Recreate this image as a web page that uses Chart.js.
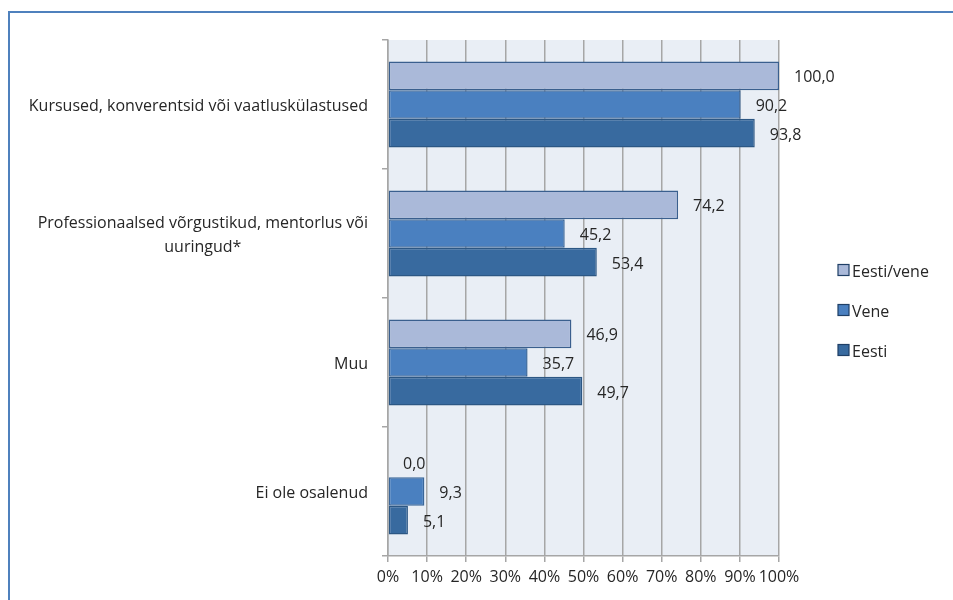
<!DOCTYPE html>
<html>
<head>
<meta charset="utf-8">
<script src="https://cdn.jsdelivr.net/npm/chart.js@4/dist/chart.umd.min.js"></script>
<style>
html,body{margin:0;padding:0;background:#fff;}
#wrap{position:relative;width:953px;height:600px;overflow:hidden;}
#frame{position:absolute;left:8px;top:11px;width:960px;height:620px;border-top:2px solid #4f81bd;border-left:2px solid #4f81bd;box-sizing:border-box;pointer-events:none;}
canvas{position:absolute;left:0;top:0;}
</style>
</head>
<body>
<div id="wrap">
<canvas id="c" width="953" height="600"></canvas>
<div id="frame"></div>
</div>
<script>
const categories = [
  ["Kursused, konverentsid või vaatluskülastused"],
  ["Professionaalsed võrgustikud, mentorlus või", "uuringud*"],
  ["Muu"],
  ["Ei ole osalenud"]
];
const seriesNames = ["Eesti/vene", "Vene", "Eesti"];
const eestiVene = [100.0, 74.2, 46.9, 0.0];
const vene = [90.2, 45.2, 35.7, 9.3];
const eesti = [93.8, 53.4, 49.7, 5.1];
const xTicks = [0, 10, 20, 30, 40, 50, 60, 70, 80, 90, 100];

const FONT = "'Open Sans', sans-serif";
const FSIZE = 16;
const TXT = "#262626";

const bgPlugin = {
  id: 'bg',
  beforeDraw(chart) {
    const {ctx, chartArea: a} = chart;
    ctx.save();
    ctx.fillStyle = '#e9eef5';
    ctx.fillRect(a.left, a.top, a.right - a.left, a.bottom - a.top);
    ctx.restore();
  },
  afterDraw(chart) {
    const ctx = chart.ctx;
    const y = chart.scales.y;
    const a = chart.chartArea;
    ctx.save();
    ctx.font = FSIZE + "px " + FONT;
    ctx.fillStyle = TXT;
    ctx.textBaseline = 'middle';
    const dy = 2;
    // category labels
    categories.forEach((lines, i) => {
      const cy = y.getPixelForTick(i);
      const maxW = Math.max(...lines.map(l => ctx.measureText(l).width));
      const cx = a.left - 20 - maxW / 2;
      const lh = 24;
      const y0 = cy - (lines.length - 1) * lh / 2;
      ctx.textAlign = 'center';
      lines.forEach((l, k) => ctx.fillText(l, cx, y0 + k * lh + dy));
    });
    // data labels
    ctx.textAlign = 'left';
    chart.data.datasets.forEach((ds, di) => {
      const meta = chart.getDatasetMeta(di);
      meta.data.forEach((bar, i) => {
        const v = ds.data[i];
        ctx.fillText(v.toFixed(1).replace('.', ','), bar.x + 15, bar.y + dy);
      });
    });
    // legend
    const lx = a.right + 59;
    const ly0 = 270;
    chart.data.datasets.forEach((ds, di) => {
      const yy = ly0 + di * 40;
      ctx.fillStyle = ds.backgroundColor;
      ctx.fillRect(lx, yy - 5.5, 11, 11);
      ctx.strokeStyle = '#1f3f66';
      ctx.lineWidth = 1.2;
      ctx.strokeRect(lx, yy - 5.5, 11, 11);
      ctx.fillStyle = TXT;
      ctx.fillText(ds.label, lx + 14, yy + dy);
    });
    ctx.restore();
  }
};

new Chart(document.getElementById('c'), {
  type: 'bar',
  data: {
    labels: categories.map(c => c.join(' ')),
    datasets: [
      {label: seriesNames[0], data: eestiVene, backgroundColor: '#aab9d9', borderColor: '#3a5f8e', borderWidth: 1.5},
      {label: seriesNames[1], data: vene, backgroundColor: '#4a80c0', borderColor: '#3a6699', borderWidth: 1.5},
      {label: seriesNames[2], data: eesti, backgroundColor: '#386a9f', borderColor: '#2c5784', borderWidth: 1.5}
    ]
  },
  options: {
    indexAxis: 'y',
    responsive: false,
    animation: false,
    layout: {padding: {top: 40, right: 174, left: 0, bottom: 0}},
    datasets: {bar: {categoryPercentage: 0.667, barPercentage: 1.0, borderSkipped: false}},
    scales: {
      x: {
        min: 0, max: 100,
        afterBuildTicks(s) { s.ticks = xTicks.map(v => ({value: v})); },
        afterFit(s) { s.height = 44; },
        grid: {color: '#a6a6a6', lineWidth: 1.5, tickLength: 6, drawTicks: true},
        border: {display: true, color: '#a6a6a6', width: 1.5},
        ticks: {font: {size: FSIZE, family: FONT}, color: TXT, padding: 6, maxRotation: 0, autoSkip: false,
                callback: v => v + '%'}
      },
      y: {
        afterFit(s) { s.width = 388; },
        grid: {drawOnChartArea: false, drawTicks: true, tickLength: 6, color: '#a6a6a6', lineWidth: 1.5, offset: true},
        border: {display: true, color: '#a6a6a6', width: 1.5},
        ticks: {display: false}
      }
    },
    plugins: {
      legend: {display: false},
      tooltip: {enabled: false}
    }
  },
  plugins: [bgPlugin]
});
</script>
</body>
</html>
